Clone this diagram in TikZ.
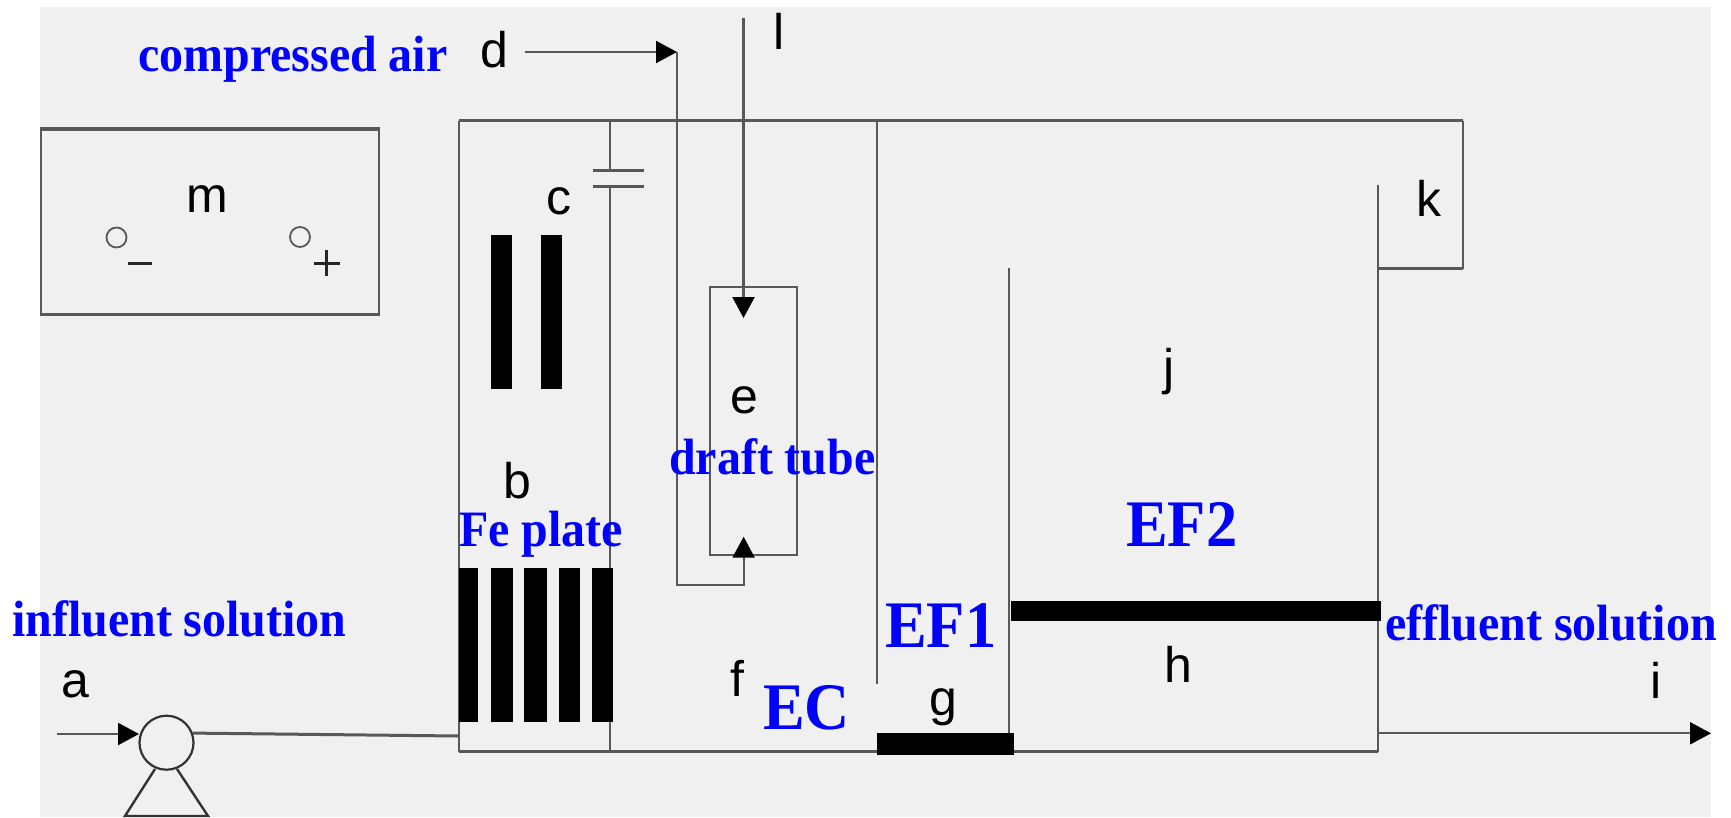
\documentclass[tikz,border=0pt]{standalone}
\usepackage{fontspec}
\setmainfont{Liberation Sans}
\newfontfamily\bluefont{Liberation Serif}[BoldFont={Liberation Serif Bold},BoldFeatures={FakeStretch=0.94}]
\usetikzlibrary{arrows.meta}
\definecolor{bgray}{HTML}{F0F0F0}
\definecolor{lgray}{HTML}{585858}
\definecolor{pureblue}{HTML}{0000FF}
\tikzset{
 wall/.style={draw=lgray,line width=2.2pt},
 hwall/.style={draw=lgray,line width=3pt},
 plate/.style={fill=black,draw=none},
 flow/.style={draw=lgray,line width=2.2pt,-{Triangle[length=21pt,width=22pt,color=black]}},
 letter/.style={inner sep=0pt,text=black,font=\fontsize{50}{50}\selectfont},
 bluelab/.style={inner sep=0pt,anchor=base west,text=pureblue,font=\bluefont\bfseries\fontsize{51}{51}\selectfont},
 bigblue/.style={inner sep=0pt,anchor=base west,text=pureblue,font=\bluefont\bfseries\fontsize{66.5}{66}\selectfont},
 terminal/.style={circle,draw=lgray,line width=1.8pt,minimum size=20pt,inner sep=0pt},
 pumpc/.style={circle,draw=black!80,line width=2.2pt,minimum size=54pt,inner sep=0pt}
}
\begin{document}
\begin{tikzpicture}[x=1pt,y=-1pt]
\useasboundingbox (0,0) rectangle (1731,817);
\fill[bgray] (40,7) rectangle (1711,817);
% coordinates
\coordinate (TL) at (459,120.7);
\coordinate (TR) at (1463,120.7);
\coordinate (KR) at (1463,268.5);
\coordinate (KL) at (1378,268.5);
\coordinate (KT) at (1378,185);
\coordinate (BR) at (1378,751.7);
\coordinate (BL) at (459,751.7);
\coordinate (CT) at (610,120.7);
\coordinate (CA) at (610,170);
\coordinate (CB) at (610,186.7);
\coordinate (CE) at (610,751.7);
\coordinate (P1a) at (592.7,170);
\coordinate (P1b) at (643.7,170);
\coordinate (P2a) at (592.7,186.7);
\coordinate (P2b) at (643.7,186.7);
\coordinate (W1t) at (876.7,120.7);
\coordinate (W1b) at (876.7,684);
\coordinate (W2t) at (1009,268);
\coordinate (W2b) at (1009,740);
\coordinate (dS) at (524.5,52);
\coordinate (dC) at (677,52);
\coordinate (dB) at (677,585);
\coordinate (dR) at (743.6,585);
\coordinate (dE) at (743.6,536.7);
\coordinate (lS) at (743.5,18);
\coordinate (lE) at (743.5,318);
\coordinate (inS) at (57,734);
\coordinate (inE) at (139,734);
\coordinate (inT) at (459,736);
\coordinate (outS) at (1378,733.3);
\coordinate (outE) at (1711,733.3);
\coordinate (trA) at (155,769);
\coordinate (trB) at (177,769);
\coordinate (trC) at (125,816);
\coordinate (trD) at (208,816);
% power supply
\node[draw=lgray,line width=2.2pt,minimum width=338pt,minimum height=184pt,inner sep=0pt,anchor=north west] (mbox) at (40,128.5) {};
\draw[hwall] (mbox.north west) -- (mbox.north east);
\draw[hwall] (mbox.south west) -- (mbox.south east);
\node[terminal] (tminus) at (116.5,237.5) {};
\node[terminal] (tplus) at (300,237) {};
\draw[draw=black!85,line width=3.6pt] (128,263.5) -- (151.5,263.5);
\draw[draw=black!85,line width=3.6pt] (314,263.5) -- (340,263.5);
\draw[draw=black!85,line width=3.6pt] (326.5,250) -- (326.5,276);
% tank
\draw[hwall] (TL) -- (TR);
\draw[wall] (TR) -- (KR);
\draw[hwall] (KR) -- (KL);
\draw[wall] (KT) -- (BR);
\draw[hwall] (BR) -- (BL);
\draw[wall] (BL) -- (TL);
\draw[wall] (CT) -- (CA);
\draw[wall] (CB) -- (CE);
\draw[hwall] (P1a) -- (P1b);
\draw[hwall] (P2a) -- (P2b);
\draw[wall] (W1t) -- (W1b);
\draw[wall] (W2t) -- (W2b);
% draft tube
\node[draw=lgray,line width=2.2pt,minimum width=87.5pt,minimum height=268.3pt,inner sep=0pt,anchor=north west] (tube) at (708.5,285.7) {};
% air and liquid lines
\draw[flow] (dS) -- (dC);
\draw[flow] (dC) -- (dB) -- (dR) -- (dE);
\draw[flow] (lS) -- (lE);
% plates
\fill[plate] (491,235) rectangle (511.6,389);
\fill[plate] (541,235) rectangle (561.6,389);
\fill[plate] (459,568.3) rectangle (478,722.3);
\fill[plate] (491,568.3) rectangle (513,722.3);
\fill[plate] (524,568.3) rectangle (546.6,722.3);
\fill[plate] (559,568.3) rectangle (580,722.3);
\fill[plate] (592,568.3) rectangle (613,722.3);
\fill[plate] (876.7,732.7) rectangle (1014,755);
\fill[plate] (1011,600.7) rectangle (1381,621);
% pump
\node[pumpc] (pump) at (166.5,742.7) {};
\draw[flow] (inS) -- (inE);
\draw[hwall] (pump.20) -- (inT);
\draw[flow] (outS) -- (outE);
\draw[draw=black!80,line width=2.4pt] (trA) -- (trC) -- (trD) -- (trB);
% letters
\node[letter] (la) at (75,684) {a};
\node[letter] (lb) at (517,481) {b};
\node[letter] (lc) at (559,201) {c};
\node[letter] (ld) at (494,50) {d};
\node[letter] (le) at (744.7,400) {e};
\node[letter] (lf) at (737,678) {f};
\node[letter] (lg) at (943,707) {g};
\node[letter] (lh) at (1178,664) {h};
\node[letter] (li) at (1656,680) {i};
\node[letter] (lj) at (1169,372) {j};
\node[letter] (lk) at (1429,198) {k};
\node[letter] (ll) at (779,31) {l};
\node[letter] (lm) at (207,199) {m};
% blue labels
\node[bluelab] (air) at (138,71.5) {compressed air};
\node[bluelab] (inf) at (12,636) {influent solution};
\node[bluelab] (fe) at (459,546) {Fe plate};
\node[bluelab] (dt) at (669,474) {draft tube};
\node[bluelab] (eff) at (1385,640) {effluent solution};
\node[bigblue] (ec) at (763,729) {EC};
\node[bigblue] (ef1) at (885,647) {EF1};
\node[bigblue] (ef2) at (1126,546) {EF2};
\end{tikzpicture}
\end{document}
